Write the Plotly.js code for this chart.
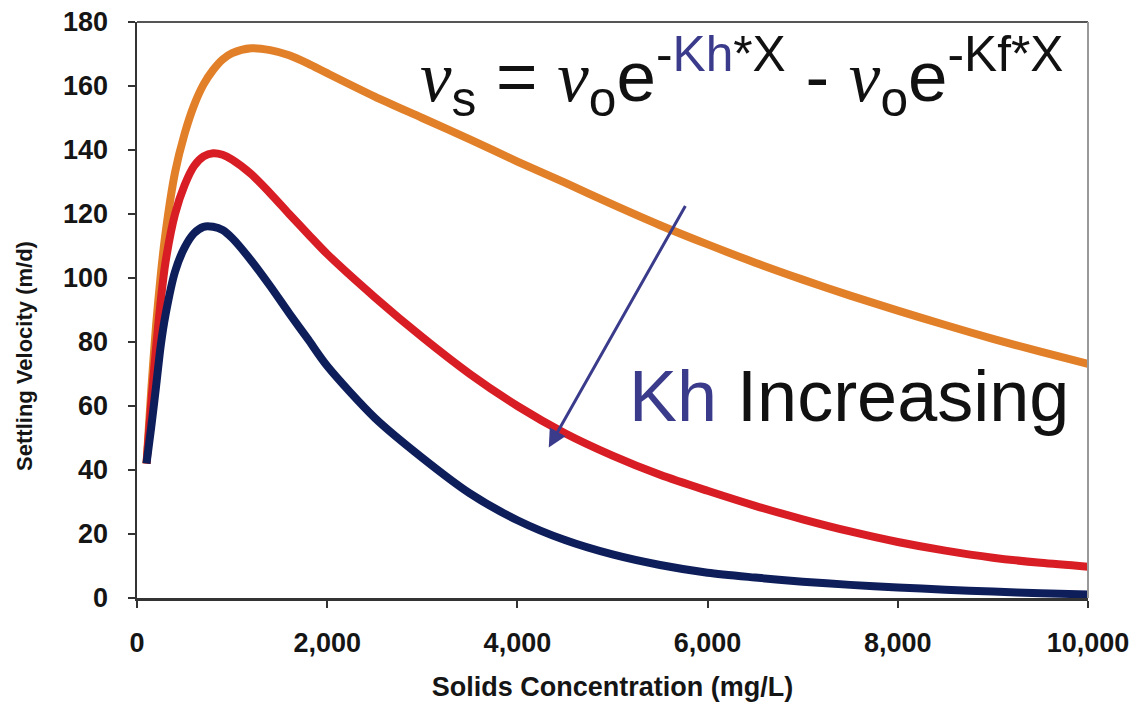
<!DOCTYPE html>
<html>
<head>
<meta charset="utf-8">
<script src="https://cdn.plot.ly/plotly-3.0.1.min.js"></script>
<style>html,body{margin:0;padding:0;background:#fff;}#chart{width:1147px;height:710px;}</style>
</head>
<body>
<div id="chart"></div>
<script>
const concentration = [100,150,200,250,300,400,500,600,700,800,900,1000,1200,1400,1600,1800,2000,2500,3000,3500,4000,4500,5000,5500,6000,6500,7000,7500,8000,8500,9000,9500,10000];
const velocityLowKh = [42,65,85,101,114,133,145,154,160.5,165,168.3,170.3,171.8,171.2,169.6,167,164,156.7,150,143.3,136.4,129.8,123,116.5,110.5,104.8,99.5,94.5,89.8,85.3,81,77,73.2];
const velocityMidKh = [42,61,78,93,105,120,129,135,138,139,138.5,137,132.5,126.5,120,113.7,107.5,94,81.5,70,60,51.5,44.5,38.5,33.5,28.8,24.6,20.8,17.5,14.8,12.6,11,9.8];
const velocityHighKh = [42,53.5,66,79,88.5,102,109.5,114,116,116,115,112.5,105.5,97.5,89,80.8,72.5,56.3,43.8,32.7,24.3,18.1,13.6,10.3,7.9,6.4,5.1,4.1,3.3,2.6,2.0,1.5,1.1];
const seriesNames = ['Low Kh','Medium Kh','High Kh'];
const xTickVals = [0,2000,4000,6000,8000,10000];
const xTickText = ['0','2,000','4,000','6,000','8,000','10,000'];
const yTickVals = [0,20,40,60,80,100,120,140,160,180];
const xTitle = 'Solids Concentration (mg/L)';
const yTitle = 'Settling Velocity (m/d)';

const colors = ['#E2802A','#D81E24','#0E1E5B'];
const series = [velocityLowKh, velocityMidKh, velocityHighKh];
const traces = series.map((ys,i)=>({
  x: concentration, y: ys, name: seriesNames[i], type:'scatter', mode:'lines',
  line:{color:colors[i], width:8, shape:'spline', smoothing:0.8}
}));

const fam = 'Liberation Sans, Arial, sans-serif';
const tickFont = {family:fam, size:27, color:'#151515', weight:'bold'};
const nu = '<span style="font-family:Liberation Serif, serif;font-style:italic">ν</span>';
const layout = {
  width:1147, height:710,
  margin:{l:137, r:59, t:22, b:112},
  paper_bgcolor:'#fff', plot_bgcolor:'#fff',
  showlegend:false,
  xaxis:{range:[0,10000], tickvals:xTickVals, ticktext:xTickText, ticks:'outside', ticklen:7, tickwidth:2, tickcolor:'#333',
    ticklabelstandoff:12,
    showline:true, linecolor:'#333', linewidth:2.5, showgrid:false, zeroline:false,
    tickfont:tickFont,
    title:{text:'<b>'+xTitle+'</b>', font:{family:fam, size:27, color:'#151515'}, standoff:20}},
  yaxis:{range:[0,180], tickvals:yTickVals, ticks:'outside', ticklen:7, tickwidth:2, tickcolor:'#333',
    ticklabelstandoff:14,
    showline:true, linecolor:'#333', linewidth:2.5, showgrid:false, zeroline:false,
    tickfont:tickFont},
  shapes:[
    {type:'line', xref:'paper', yref:'paper', x0:0, x1:1, y0:1, y1:1, line:{color:'#555', width:2}},
    {type:'line', xref:'paper', yref:'paper', x0:1, x1:1, y0:0, y1:1, line:{color:'#999', width:2}}
  ],
  annotations:[
    {x:-0.119, y:0.42, xref:'paper', yref:'paper', xanchor:'center', yanchor:'middle', showarrow:false, textangle:-90,
     text:'<b>'+yTitle+'</b>', font:{family:fam, size:22, color:'#151515'}},
    {x:2950, y:163, xref:'x', yref:'y', xanchor:'left', yanchor:'middle', showarrow:false,
     text: nu+'<sub>s</sub> = '+nu+'<sub>o</sub>e<sup>-<span style="color:#3b3b8c">Kh</span>*X</sup> - '+nu+'<sub>o</sub>e<sup>-Kf*X</sup>',
     font:{family:fam, size:71, color:'#111'}},
    {x:5150, y:63, xref:'x', yref:'y', xanchor:'left', yanchor:'middle', showarrow:false,
     text:'<span style="color:#3b3b8c">Kh</span> Increasing',
     font:{family:fam, size:72, color:'#111'}},
    {x:4330, y:47, ax:5775, ay:123, xref:'x', yref:'y', axref:'x', ayref:'y', text:'', showarrow:true,
     arrowhead:2, arrowsize:1.2, arrowwidth:3, arrowcolor:'#3b3b8c'}
  ]
};
Plotly.newPlot('chart', traces, layout, {displayModeBar:false, staticPlot:true});
</script>
</body>
</html>
